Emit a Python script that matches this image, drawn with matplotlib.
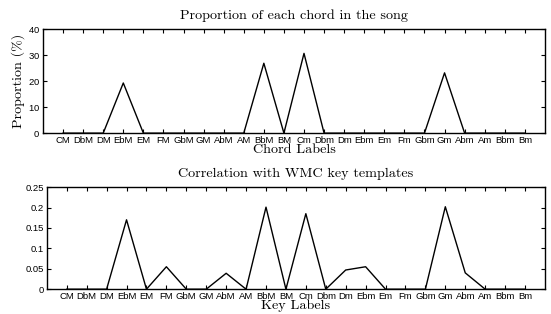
import matplotlib
matplotlib.use("Agg")
import matplotlib.pyplot as plt
import numpy as np

chords = ["CM", "DbM", "DM", "EbM", "EM", "FM", "GbM", "GM", "AbM", "AM", "BbM", "BM",
          "Cm", "Dbm", "Dm", "Ebm", "Em", "Fm", "Gbm", "Gm", "Abm", "Am", "Bbm", "Bm"]
proportion = [0, 0, 0, 19.3, 0, 0, 0, 0, 0, 0, 26.9, 0,
              30.7, 0, 0, 0, 0, 0, 0, 23.2, 0, 0, 0, 0]
correlation = [0, 0, 0, 0.170, 0, 0.055, 0, 0, 0.039, 0, 0.201, 0,
               0.185, 0, 0.047, 0.055, 0, 0, 0, 0.202, 0.040, 0, 0, 0]

serif = ["cmr10", "DejaVu Serif"]
sans = "Liberation Sans"
plt.rcParams["axes.formatter.use_mathtext"] = True

fig = plt.figure(figsize=(5.51, 3.14), dpi=100)
ax1 = fig.add_axes([0.078, 0.576, 0.911, 0.331])
ax2 = fig.add_axes([0.085, 0.079, 0.904, 0.325])

x = np.arange(1, len(chords) + 1)

def style(ax):
    ax.set_xlim(0, 25)
    ax.set_xticks(x)
    ax.set_xticklabels(chords, fontfamily=sans, fontsize=6.8)
    ax.tick_params(direction="in", top=True, right=True, length=3, width=0.8, pad=2)
    for lab in ax.get_yticklabels():
        lab.set_fontfamily(sans)
        lab.set_fontsize(6.8)
    for s in ax.spines.values():
        s.set_linewidth(1)

ax1.plot(x, proportion, color="black", lw=1)
ax1.set_ylim(0, 40)
ax1.set_yticks([0, 10, 20, 30, 40])
style(ax1)
ax1.set_title("Proportion of each chord in the song", fontfamily=serif, fontsize=10.2, pad=7)
ax1.set_xlabel("Chord Labels", fontfamily=serif, fontsize=10.2, labelpad=-1)
ax1.set_ylabel("Proportion (%)", fontfamily=serif, fontsize=10.2, labelpad=2)

ax2.plot(x, correlation, color="black", lw=1)
ax2.set_ylim(0, 0.25)
ax2.set_yticks([0, 0.05, 0.1, 0.15, 0.2, 0.25])
ax2.set_yticklabels(["0", "0.05", "0.1", "0.15", "0.2", "0.25"])
style(ax2)
ax2.set_title("Correlation with WMC key templates", fontfamily=serif, fontsize=10.2, pad=7)
ax2.set_xlabel("Key Labels", fontfamily=serif, fontsize=10.2, labelpad=-1)

fig.savefig("out.png", dpi=100)
